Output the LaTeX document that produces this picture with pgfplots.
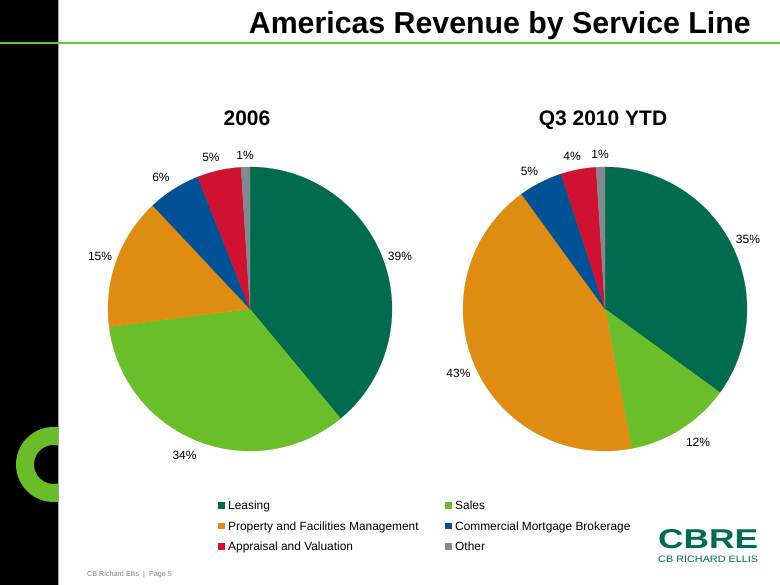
\documentclass[border=0pt]{standalone}
\usepackage{pgfplots}
\pgfplotsset{compat=1.18}
\usepackage{graphicx}
\usepackage{fontspec}
\setmainfont{Liberation Sans}
\definecolor{cL}{RGB}{0,107,78}
\definecolor{cS}{RGB}{106,190,42}
\definecolor{cP}{RGB}{222,140,18}
\definecolor{cC}{RGB}{0,82,148}
\definecolor{cA}{RGB}{208,18,50}
\definecolor{cO}{RGB}{130,137,143}
\definecolor{lineGreen}{RGB}{104,200,56}
\definecolor{cGreen}{RGB}{106,188,40}
\newcommand{\lblfont}{\fontsize{12}{14}\selectfont}
\begin{document}
\begin{tikzpicture}
% background
\fill[white] (0pt,0pt) rectangle (780pt,585pt);
\fill[black] (0pt,0pt) rectangle (58pt,585pt);
\draw[gray!70, line width=0.8pt] (58.4pt,0pt) -- (58.4pt,585pt);
\begin{scope}
\clip (0pt,0pt) rectangle (58pt,585pt);
\fill[cGreen, even odd rule] (53.5pt,120.5pt) circle (37.5pt) (53.5pt,120.5pt) circle (19.5pt);
\end{scope}
\draw[lineGreen, line width=2.8pt] (0pt,542pt) -- (780pt,542pt);
% title
\node[anchor=base east, inner sep=0pt, font=\fontsize{30.3}{34}\selectfont\bfseries] at (751pt,551pt) {Americas Revenue by Service Line};
% chart titles
\node[font=\fontsize{21}{24}\selectfont\bfseries] at (247pt,467pt) {2006};
\node[font=\fontsize{21}{24}\selectfont\bfseries] at (603pt,465pt) {Q3 2010 YTD};

% 2006 pie
\begin{axis}[at={(250pt,276pt)}, anchor=center, x=142pt, y=142pt,
  xmin=-1.4, xmax=1.4, ymin=-1.4, ymax=1.4, hide axis, clip=false]
\addplot[fill=cL, draw=cL, line width=0.2pt, domain=0:39, samples=80] ({sin(3.6*x)},{cos(3.6*x)}) -- (axis cs:0,0) -- cycle;
\addplot[fill=cS, draw=cS, line width=0.2pt, domain=39:73, samples=80] ({sin(3.6*x)},{cos(3.6*x)}) -- (axis cs:0,0) -- cycle;
\addplot[fill=cP, draw=cP, line width=0.2pt, domain=73:88, samples=40] ({sin(3.6*x)},{cos(3.6*x)}) -- (axis cs:0,0) -- cycle;
\addplot[fill=cC, draw=cC, line width=0.2pt, domain=88:94, samples=20] ({sin(3.6*x)},{cos(3.6*x)}) -- (axis cs:0,0) -- cycle;
\addplot[fill=cA, draw=cA, line width=0.2pt, domain=94:99, samples=20] ({sin(3.6*x)},{cos(3.6*x)}) -- (axis cs:0,0) -- cycle;
\addplot[fill=cO, draw=cO, line width=0.2pt, domain=99:100, samples=8] ({sin(3.6*x)},{cos(3.6*x)}) -- (axis cs:0,0) -- cycle;
\node[font=\lblfont] at (axis cs:1.056,0.370) {39\%};
\node[font=\lblfont] at (axis cs:-0.461,-1.032) {34\%};
\node[font=\lblfont] at (axis cs:-1.056,0.370) {15\%};
\node[font=\lblfont] at (axis cs:-0.627,0.930) {6\%};
\node[font=\lblfont] at (axis cs:-0.275,1.067) {5\%};
\node[font=\lblfont] at (axis cs:-0.035,1.085) {1\%};
\end{axis}

% Q3 2010 YTD pie
\begin{axis}[at={(605pt,276pt)}, anchor=center, x=142pt, y=142pt,
  xmin=-1.4, xmax=1.4, ymin=-1.4, ymax=1.4, hide axis, clip=false]
\addplot[fill=cL, draw=cL, line width=0.2pt, domain=0:35, samples=80] ({sin(3.6*x)},{cos(3.6*x)}) -- (axis cs:0,0) -- cycle;
\addplot[fill=cS, draw=cS, line width=0.2pt, domain=35:47, samples=40] ({sin(3.6*x)},{cos(3.6*x)}) -- (axis cs:0,0) -- cycle;
\addplot[fill=cP, draw=cP, line width=0.2pt, domain=47:90, samples=80] ({sin(3.6*x)},{cos(3.6*x)}) -- (axis cs:0,0) -- cycle;
\addplot[fill=cC, draw=cC, line width=0.2pt, domain=90:95, samples=20] ({sin(3.6*x)},{cos(3.6*x)}) -- (axis cs:0,0) -- cycle;
\addplot[fill=cA, draw=cA, line width=0.2pt, domain=95:99, samples=20] ({sin(3.6*x)},{cos(3.6*x)}) -- (axis cs:0,0) -- cycle;
\addplot[fill=cO, draw=cO, line width=0.2pt, domain=99:100, samples=8] ({sin(3.6*x)},{cos(3.6*x)}) -- (axis cs:0,0) -- cycle;
\node[font=\lblfont] at (axis cs:1.007,0.489) {35\%};
\node[font=\lblfont] at (axis cs:0.655,-0.937) {12\%};
\node[font=\lblfont] at (axis cs:-1.032,-0.454) {43\%};
\node[font=\lblfont] at (axis cs:-0.532,0.972) {5\%};
\node[font=\lblfont] at (axis cs:-0.232,1.074) {4\%};
\node[font=\lblfont] at (axis cs:-0.035,1.092) {1\%};
\end{axis}

% legend
\begin{scope}[font=\fontsize{11.9}{13}\selectfont]
\fill[cL] (218pt,76.3pt) rectangle ++(6.5pt,6.5pt);
\node[anchor=base west, inner sep=0pt] at (228pt,75pt) {Leasing};
\fill[cS] (445pt,76.3pt) rectangle ++(6.5pt,6.5pt);
\node[anchor=base west, inner sep=0pt] at (455pt,75pt) {Sales};
\fill[cP] (218pt,55.8pt) rectangle ++(6.5pt,6.5pt);
\node[anchor=base west, inner sep=0pt] at (228pt,54.5pt) {Property and Facilities Management};
\fill[cC] (445pt,55.8pt) rectangle ++(6.5pt,6.5pt);
\node[anchor=base west, inner sep=0pt] at (455pt,54.5pt) {Commercial Mortgage Brokerage};
\fill[cA] (218pt,35.3pt) rectangle ++(6.5pt,6.5pt);
\node[anchor=base west, inner sep=0pt] at (228pt,34pt) {Appraisal and Valuation};
\fill[cO] (445pt,35.3pt) rectangle ++(6.5pt,6.5pt);
\node[anchor=base west, inner sep=0pt] at (455pt,34pt) {Other};
\end{scope}

% footer
\node[anchor=west, inner sep=0pt, text=gray, font=\fontsize{7.2}{8}\selectfont] at (87pt,10pt) {CB Richard Ellis~~|~~Page 5};
% logo
\node[anchor=south west, inner sep=0pt, text=cL] at (658pt,36pt) {\resizebox{100pt}{19pt}{\bfseries CBRE}};
\node[anchor=south west, inner sep=0pt, text=cL] at (658pt,22pt) {\resizebox{100pt}{6.5pt}{CB RICHARD ELLIS}};

\pgfresetboundingbox
\path[use as bounding box] (0pt,0pt) rectangle (780pt,585pt);
\end{tikzpicture}
\end{document}
